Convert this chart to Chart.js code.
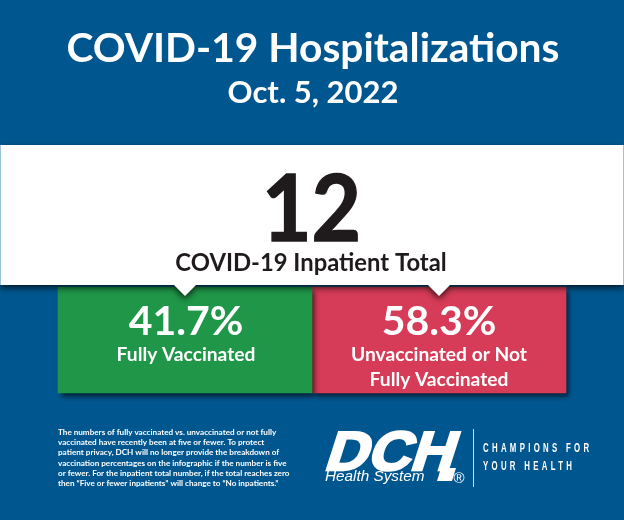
<!DOCTYPE html>
<html>
<head>
<meta charset="utf-8">
<script src="https://cdn.jsdelivr.net/npm/chart.js@4"></script>
<style>
  html, body { margin: 0; padding: 0; background: #00578f; overflow: hidden; }
  canvas { display: block; }
</style>
</head>
<body>
<canvas id="hospChart" width="624" height="520"></canvas>
<script>
const categories = ["Fully Vaccinated", "Unvaccinated or Not Fully Vaccinated"];
const tileLabels = [["Fully Vaccinated"], ["Unvaccinated or Not", "Fully Vaccinated"]];
const shares = [41.7, 58.3];
const tileColors = ["#1f9648", "#d63b57"];
const inpatientTotal = 12;
const titleText = "COVID-19 Hospitalizations";
const dateText = "Oct. 5, 2022";
const totalLabel = "COVID-19 Inpatient Total";
const footnote = [
  "The numbers of fully vaccinated vs. unvaccinated or not fully",
  "vaccinated have recently been at five or fewer. To protect",
  "patient privacy, DCH will no longer provide the breakdown of",
  "vaccination percentages on the infographic if the number is five",
  "or fewer. For the inpatient total number, if the total reaches zero",
  "then \u201cFive or fewer inpatients\u201d will change to \u201cNo inpatients.\u201d"
];
const tagline = ["CHAMPIONS FOR", "YOUR HEALTH"];

const FONT = "Lato, sans-serif";

function put(ctx, text, x, y, font, color, align) {
  ctx.font = font;
  ctx.fillStyle = color;
  ctx.textAlign = align || "center";
  ctx.textBaseline = "alphabetic";
  ctx.fillText(text, x, y);
}

// the tiles get a drop shadow, green falls onto the red one
const tileShadow = {
  id: "tileShadow",
  beforeDatasetsDraw(chart) {
    const ctx = chart.ctx;
    ctx.save();
    ctx.shadowColor = "rgba(0,0,0,0.65)";
    ctx.shadowBlur = 5;
    ctx.shadowOffsetX = 3;
    ctx.shadowOffsetY = 4;
  },
  afterDatasetsDraw(chart) {
    chart.ctx.restore();
  }
};

// white band, pointers and all the text on top of the tiles
const overlay = {
  id: "overlay",
  afterDraw(chart) {
    const ctx = chart.ctx;
    const xs = chart.scales.x;

    put(ctx, titleText, 313, 62, "bold 40.7px " + FONT, "#fff");
    put(ctx, dateText, 313, 103, "bold 31px " + FONT, "#fff");

    ctx.save();
    ctx.shadowColor = "rgba(0,0,0,0.7)";
    ctx.shadowBlur = 6;
    ctx.shadowOffsetY = 3;
    ctx.fillStyle = "#fff";
    ctx.beginPath();
    ctx.moveTo(0, 145);
    ctx.lineTo(624, 145);
    ctx.lineTo(624, 285);
    categories.slice().reverse().forEach((c, i) => {
      const cx = xs.getPixelForValue(categories.length - 1 - i);
      ctx.lineTo(cx + 11, 285);
      ctx.lineTo(cx, 296);
      ctx.lineTo(cx - 11, 285);
    });
    ctx.lineTo(0, 285);
    ctx.closePath();
    ctx.fill();
    ctx.restore();

    ctx.strokeStyle = "#9cc3dc";
    ctx.lineWidth = 1;
    ctx.beginPath();
    ctx.moveTo(0.5, 145);
    ctx.lineTo(0.5, 285);
    ctx.moveTo(623.5, 145);
    ctx.lineTo(623.5, 285);
    ctx.stroke();

    // the big number is a bit narrower and heavier than plain Lato bold
    ctx.save();
    ctx.translate(311.5, 241);
    ctx.scale(0.93, 1);
    put(ctx, String(inpatientTotal), 0, 0, "bold 92px " + FONT, "#1f1a1c");
    ctx.strokeStyle = "#1f1a1c";
    ctx.lineWidth = 1.5;
    ctx.strokeText(String(inpatientTotal), 0, 0);
    ctx.restore();
    put(ctx, totalLabel, 311, 271, "bold 23.8px " + FONT, "#1f1a1c");

    shares.forEach((s, i) => {
      const cx = xs.getPixelForValue(i) + (i === 0 ? 1 : 0);
      put(ctx, s.toFixed(1) + "%", cx, 335, "bold 41px " + FONT, "#fff");
      tileLabels[i].forEach((line, j) => {
        put(ctx, line, cx, 361 + j * 25, "bold 19.2px " + FONT, "#fff");
      });
    });

    footnote.forEach((line, i) => {
      put(ctx, line, 58, 435 + i * 10.2, "bold 8.15px " + FONT, "#fff", "left");
    });

    // logo
    ctx.save();
    ctx.translate(323, 470);
    ctx.transform(1, 0, -0.32, 1, 0, 0);
    ctx.scale(1.08, 1);
    ctx.lineWidth = 2.5;
    ctx.strokeStyle = "#fff";
    ctx.font = "bold 55px 'Liberation Sans'";
    ctx.textAlign = "left";
    ctx.fillStyle = "#fff";
    ctx.strokeText("DCH", 0, 0);
    ctx.fillText("DCH", 0, 0);
    ctx.restore();
    // right leg of the H runs down past the wordmark
    ctx.fillStyle = "#fff";
    ctx.beginPath();
    ctx.moveTo(441, 468);
    ctx.lineTo(456, 468);
    ctx.lineTo(452, 481);
    ctx.lineTo(437, 481);
    ctx.closePath();
    ctx.fill();
    put(ctx, "Health System", 325, 481, "italic 15.3px 'Liberation Sans'", "#fff", "left");
    put(ctx, "\u00ae", 459, 483, "15px 'Liberation Sans'", "#fff");

    ctx.strokeStyle = "#cfdfea";
    ctx.lineWidth = 1;
    ctx.beginPath();
    ctx.moveTo(473.5, 429);
    ctx.lineTo(473.5, 487);
    ctx.stroke();

    tagline.forEach((line, i) => {
      ctx.save();
      ctx.translate(483, 452 + i * 18);
      ctx.scale(0.65, 1);
      ctx.letterSpacing = "5.1px";
      put(ctx, line, 0, 0, "bold 12px 'Liberation Sans'", "#fff", "left");
      ctx.restore();
    });
  }
};

new Chart(document.getElementById("hospChart"), {
  type: "bar",
  data: {
    labels: categories,
    // each tile fills its own axis, the source draws them the same size
    datasets: [
      { label: "Fully vaccinated", data: [shares[0], null], backgroundColor: tileColors[0], yAxisID: "yVaccinated" },
      { label: "Not fully vaccinated", data: [null, shares[1]], backgroundColor: tileColors[1], yAxisID: "yUnvaccinated" }
    ]
  },
  options: {
    responsive: false,
    animation: false,
    layout: { padding: { left: 58, right: 58, top: 287, bottom: 127 } },
    datasets: { bar: { grouped: false, barPercentage: 1, categoryPercentage: 1, clip: false, borderWidth: 0 } },
    plugins: { legend: { display: false }, tooltip: { enabled: false } },
    scales: {
      x: { display: false, grid: { display: false } },
      yVaccinated: { display: false, min: 0, max: shares[0] },
      yUnvaccinated: { display: false, min: 0, max: shares[1] }
    }
  },
  plugins: [tileShadow, overlay]
});
</script>
</body>
</html>
